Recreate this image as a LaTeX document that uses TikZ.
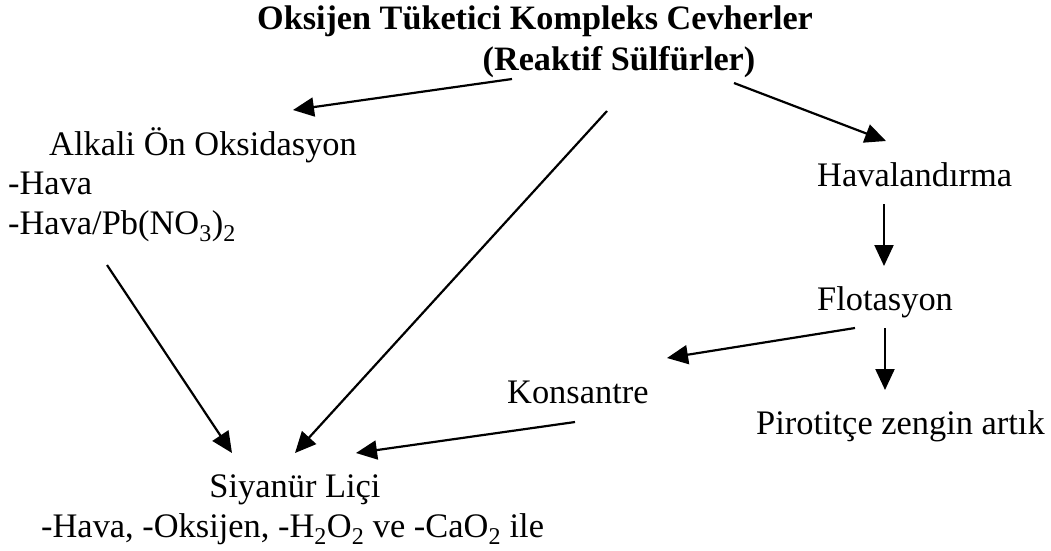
\documentclass[tikz,border=0pt]{standalone}
\usepackage{fontspec}
\setmainfont{Liberation Serif}
\usetikzlibrary{arrows.meta}
\begin{document}
\begin{tikzpicture}[x=1pt,y=-1pt,
  lbl/.style={inner sep=0pt,font=\fontsize{34.4}{40}\selectfont},
  ttl/.style={inner sep=0pt,font=\fontsize{34.2}{40}\selectfont\bfseries},
  flow/.style={line width=2.2pt,-{Triangle[length=21pt,width=19pt]}}]
\useasboundingbox (0,0) rectangle (1051,550);

% texts
\node[ttl,anchor=base] (t1) at (535,29) {Oksijen Tüketici Kompleks Cevherler};
\node[ttl,anchor=base] (t2) at (619,70) {(Reaktif Sülfürler)};
\node[lbl,anchor=base west] (alk) at (49,155) {Alkali Ön Oksidasyon};
\node[lbl,anchor=base west] (alk1) at (8,194) {-Hava};
\node[lbl,anchor=base west] (alk2) at (8,234) {-Hava/Pb(NO\textsubscript{3})\textsubscript{2}};
\node[lbl,anchor=base west] (hav) at (817,186) {Havalandırma};
\node[lbl,anchor=base west] (flo) at (817,310) {Flotasyon};
\node[lbl,anchor=base west] (kon) at (507,403) {Konsantre};
\node[lbl,anchor=base west] (pir) at (756,434) {Pirotitçe zengin artık};
\node[lbl,anchor=base] (siy) at (295,497) {Siyanür Liçi};
\node[lbl,anchor=base west] (siy1) at (41,537) {-Hava, -Oksijen, -H\textsubscript{2}O\textsubscript{2} ve -CaO\textsubscript{2} ile};

% arrow end points
\coordinate (t2l) at (512,79);
\coordinate (alkin) at (293,110);
\coordinate (t2m) at (607,111);
\coordinate (t2r) at (734,83);
\coordinate (havin) at (886,141);
\coordinate (havout) at (884,204);
\coordinate (floin) at (884,266);
\coordinate (floout) at (885,328);
\coordinate (pirin) at (885,390);
\coordinate (flol) at (855,328);
\coordinate (konin) at (667,358);
\coordinate (konout) at (575,422);
\coordinate (alkout) at (107,265);
\coordinate (siya) at (232,453);
\coordinate (siyb) at (295,453);
\coordinate (siyc) at (356,453);

% connectors
\draw[flow] (t2l) -- (alkin);
\draw[flow] (t2m) -- (siyb);
\draw[flow] (t2r) -- (havin);
\draw[flow] (havout) -- (floin);
\draw[flow] (floout) -- (pirin);
\draw[flow] (flol) -- (konin);
\draw[flow] (konout) -- (siyc);
\draw[flow] (alkout) -- (siya);
\end{tikzpicture}
\end{document}
